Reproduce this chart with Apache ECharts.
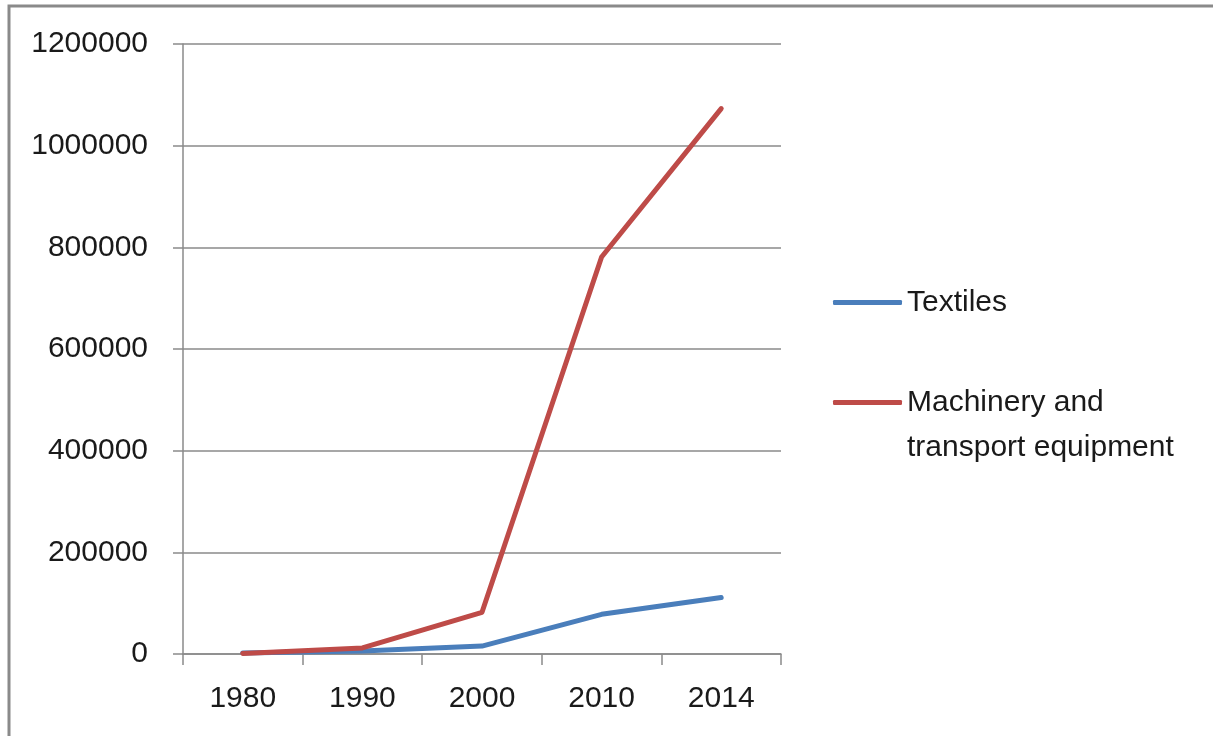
<!DOCTYPE html>
<html>
<head>
  <meta charset="utf-8" />
  <title>Textiles vs Machinery</title>
  <script src="https://cdn.jsdelivr.net/npm/echarts@6/dist/echarts.min.js"></script>
  <style>
    html, body { margin: 0; padding: 0; background: #fff; }
    #main { width: 1213px; height: 736px; }
  </style>
</head>
<body>
<div id="main"></div>
<script>
  // data
  var years = ['1980', '1990', '2000', '2010', '2014'];
  var textiles = [2000, 6000, 15500, 78000, 111000];
  var machinery = [1000, 12000, 82000, 781000, 1073000];
  var seriesNames = ['Textiles', 'Machinery and transport equipment'];

  var font = '"Liberation Sans", Arial, sans-serif';
  var grey = '#8a8a8a';

  var myChart = echarts.init(document.getElementById('main'));
  var option = {
    animation: false,
    backgroundColor: '#fff',
    graphic: [{
      type: 'rect',
      shape: { x: 9, y: 6, width: 1400, height: 900 },
      style: { fill: 'none', stroke: grey, lineWidth: 3 }
    }],
    grid: { left: 183, right: 432, top: 44, bottom: 82 },
    legend: {
      orient: 'vertical',
      left: 833,
      top: 280,
      padding: 0,
      itemGap: 10,
      itemWidth: 69,
      itemHeight: 5,
      icon: 'roundRect',
      data: seriesNames,
      formatter: function (n) {
        // blank first line keeps "Machinery and" level with the icon
        return n === seriesNames[1] ? '\u00a0\nMachinery and\ntransport equipment' : n;
      },
      textStyle: { fontFamily: font, fontSize: 30, color: '#1a1a1a', lineHeight: 45 }
    },
    xAxis: {
      type: 'category',
      data: years,
      boundaryGap: true,
      axisLine: { lineStyle: { color: grey, width: 1.5 } },
      axisTick: { show: true, length: 11, lineStyle: { color: grey, width: 1.5 } },
      axisLabel: { fontFamily: font, fontSize: 30, color: '#1a1a1a', margin: 30 },
      splitLine: { show: false }
    },
    yAxis: {
      type: 'value',
      min: 0,
      max: 1200000,
      interval: 200000,
      axisLine: { show: true, lineStyle: { color: grey, width: 1.5 } },
      axisTick: { show: true, length: 10, lineStyle: { color: grey, width: 1.5 } },
      axisLabel: {
        fontFamily: font, fontSize: 30, color: '#1a1a1a', margin: 35,
        formatter: function (v) { return String(v); }
      },
      splitLine: { lineStyle: { color: grey, width: 1.5 } }
    },
    series: [
      {
        name: seriesNames[0],
        type: 'line',
        data: textiles,
        showSymbol: false,
        symbol: 'none',
        itemStyle: { color: '#4a7ebb' },
        lineStyle: { color: '#4a7ebb', width: 5, cap: 'round', join: 'round' }
      },
      {
        name: seriesNames[1],
        type: 'line',
        data: machinery,
        showSymbol: false,
        symbol: 'none',
        itemStyle: { color: '#be4b48' },
        lineStyle: { color: '#be4b48', width: 5, cap: 'round', join: 'round' }
      }
    ]
  };
  myChart.setOption(option);
</script>
</body>
</html>
